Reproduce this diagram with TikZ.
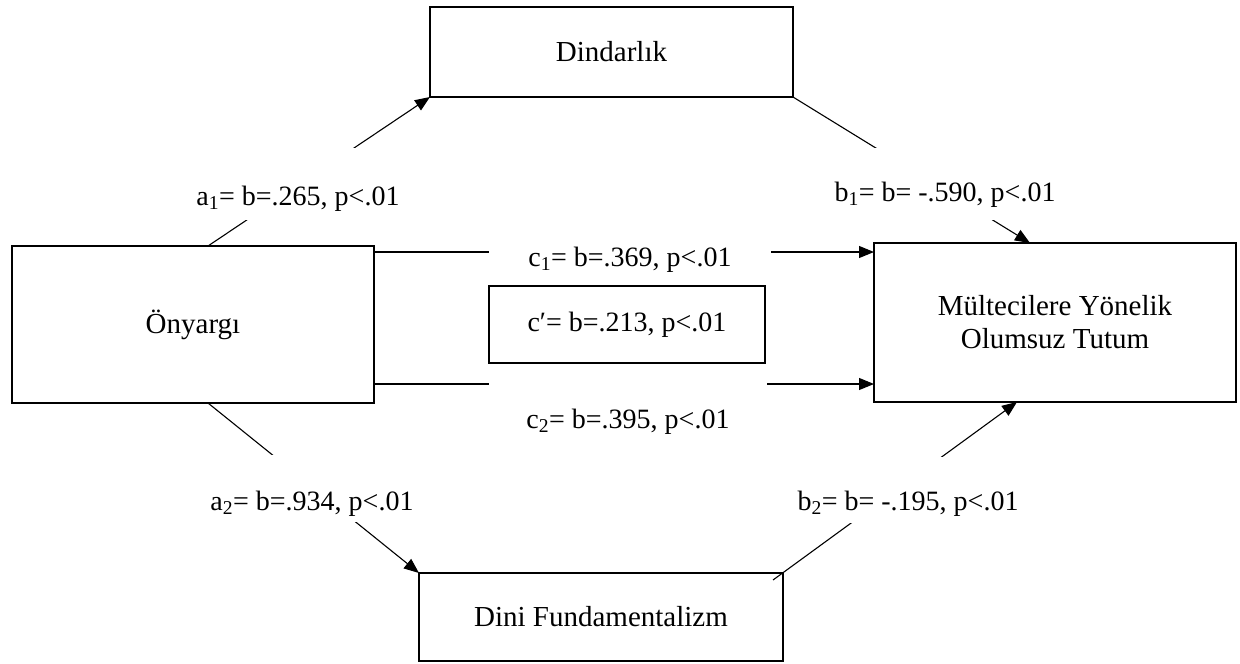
\documentclass[tikz,border=0pt]{standalone}
\usepackage{fontspec}
\setmainfont{Liberation Serif}
\usepackage{tikz}
\usetikzlibrary{calc}
\usetikzlibrary{arrows.meta}

\begin{document}
\begin{tikzpicture}[x=1pt, y=-1pt,
    font=\fontsize{28}{33}\selectfont,
    box/.style={draw=black, line width=2.4pt, fill=white, align=center, inner sep=0pt, outer sep=0pt,
      font=\fontsize{29}{33}\selectfont},
    arr/.style={line width=1.1pt, -{Triangle[length=15pt, width=12pt]}},
    lbl/.style={fill=white, anchor=base, inner xsep=0pt, inner ysep=0pt}]
  \useasboundingbox (0,0) rectangle (1240,664);

  \node[box, minimum width=363pt, minimum height=90pt] (Din) at (611.5,52) {Dindarlık};
  \node[box, minimum width=362pt, minimum height=157pt] (Ony) at (193,324.5) {Önyargı};
  \node[box, minimum width=362pt, minimum height=159pt] (Mtut) at (1055,322.5) {Mültecilere Yönelik\\Olumsuz Tutum};
  \node[box, minimum width=364pt, minimum height=88pt] (Dfun) at (601,617) {Dini Fundamentalizm};
  \node[draw=black, line width=1.1pt, minimum width=276pt, minimum height=77pt, inner sep=0pt] (cpr) at (627,324.5) {c′= b=.213, p<.01};

  \draw[arr] ($(Ony.north)+(15,0)$) -- (Din.south west);
  \draw[arr] (Din.south east) -- ($(Mtut.north)+(-25,0)$);
  \draw[arr] ($(Ony.north east)+(0,6)$) -- ($(Mtut.north west)+(0,9)$);
  \draw[arr] ($(Ony.south east)+(0,-19)$) -- ($(Mtut.south west)+(0,-18)$);
  \draw[arr] ($(Ony.south)+(15,0)$) -- (Dfun.north west);
  \draw[arr] ($(Dfun.north east)+(-10,7)$) -- ($(Mtut.south)+(-38,0)$);

  \node[lbl, minimum width=300pt, text height=57pt, text depth=15pt] (la1) at (298,205) {a\textsubscript{1}= b=.265, p<.01};
  \node[lbl, minimum width=290pt, text height=53pt, text depth=19pt] (lb1) at (945,201) {b\textsubscript{1}= b= -.590, p<.01};
  \node[lbl, minimum width=282pt, text height=22pt, text depth=12pt] (lc1) at (630,266) {c\textsubscript{1}= b=.369, p<.01};
  \node[lbl, minimum width=278pt, text height=56pt, text depth=12pt] (lc2) at (628,428) {c\textsubscript{2}= b=.395, p<.01};
  \node[lbl, minimum width=230pt, text height=55pt, text depth=12pt] (la2) at (312,510) {a\textsubscript{2}= b=.934, p<.01};
  \node[lbl, minimum width=240pt, text height=53pt, text depth=13pt] (lb2) at (908,510) {b\textsubscript{2}= b= -.195, p<.01};
\end{tikzpicture}
\end{document}
